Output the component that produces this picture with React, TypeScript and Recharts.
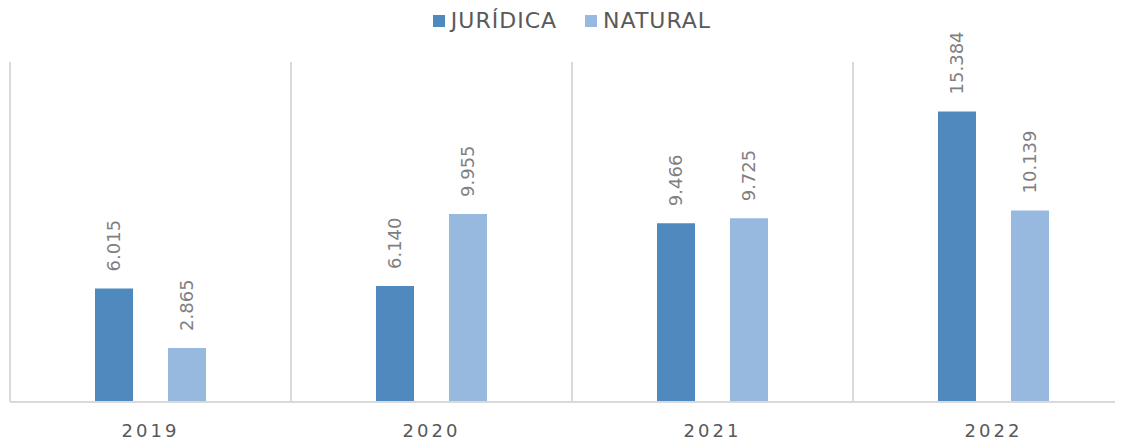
import { BarChart, Bar, XAxis, YAxis, CartesianGrid, Legend, LabelList } from "recharts";

const years = ["2019", "2020", "2021", "2022"];
const juridica = [6015, 6140, 9466, 15384];
const natural = [2865, 9955, 9725, 10139];

const data = years.map((year, i) => ({
  year,
  juridica: juridica[i],
  natural: natural[i],
}));

const DARK = "#4f89bd";
const LIGHT = "#98b9df";
const FONT = "'DejaVu Sans', sans-serif";

const fmt = (v: number) => String(v).replace(/\B(?=(\d{3})+(?!\d))/g, ".");

const BarLabel = (props: any) => {
  const { x, y, width, value } = props;
  const cx = x + width / 2;
  const cy = y - 17;
  return (
    <text
      x={cx}
      y={cy}
      transform={`rotate(-90 ${cx} ${cy})`}
      textAnchor="start"
      dominantBaseline="central"
      fill="#7f7f7f"
      fontSize={18}
      fontFamily={FONT}
    >
      {fmt(value)}
    </text>
  );
};

const YearTick = ({ x, y, payload }: any) => (
  <text
    x={x}
    y={y + 20}
    textAnchor="middle"
    dominantBaseline="central"
    fill="#595959"
    fontSize={18}
    letterSpacing={3}
    fontFamily={FONT}
  >
    {payload.value}
  </text>
);

const LegendBox = () => (
  <div
    style={{
      height: 54,
      display: "flex",
      justifyContent: "center",
      alignItems: "flex-start",
      fontFamily: FONT,
      fontSize: 22,
      letterSpacing: 1,
      color: "#595959",
      lineHeight: "26px",
    }}
  >
    {[
      { name: "JURÍDICA", color: DARK },
      { name: "NATURAL", color: LIGHT },
    ].map((it) => (
      <span key={it.name} style={{ display: "flex", alignItems: "center", margin: "0 14px" }}>
        <span style={{ width: 12, height: 12, background: it.color, marginRight: 6 }} />
        {it.name}
      </span>
    ))}
  </div>
);

export default function App() {
  return (
    <div style={{ width: 1115, height: 431, overflow: "hidden" }}>
      <BarChart
        width={1130}
        height={431}
        data={data}
        margin={{ top: 0, right: 4, left: 2, bottom: 0 }}
        barCategoryGap={85}
        barGap={35}
        barSize={38}
      >
        <CartesianGrid
          horizontal={false}
          stroke="#d9d9d9"
          strokeWidth={2}
          verticalCoordinatesGenerator={({ offset }: any) =>
            [0, 1, 2, 3, 4].map((i) => offset.left + (i * offset.width) / years.length)
          }
        />
        <XAxis
          dataKey="year"
          axisLine={{ stroke: "#d9d9d9", strokeWidth: 2 }}
          tickLine={false}
          tick={<YearTick />}
          height={37}
        />
        <YAxis hide domain={[0, 18000]} />
        <Legend verticalAlign="top" wrapperStyle={{ top: 0 }} content={<LegendBox />} />
        <Bar dataKey="juridica" name="JURÍDICA" fill={DARK} isAnimationActive={false}>
          <LabelList dataKey="juridica" content={<BarLabel />} />
        </Bar>
        <Bar dataKey="natural" name="NATURAL" fill={LIGHT} isAnimationActive={false}>
          <LabelList dataKey="natural" content={<BarLabel />} />
        </Bar>
      </BarChart>
    </div>
  );
}
